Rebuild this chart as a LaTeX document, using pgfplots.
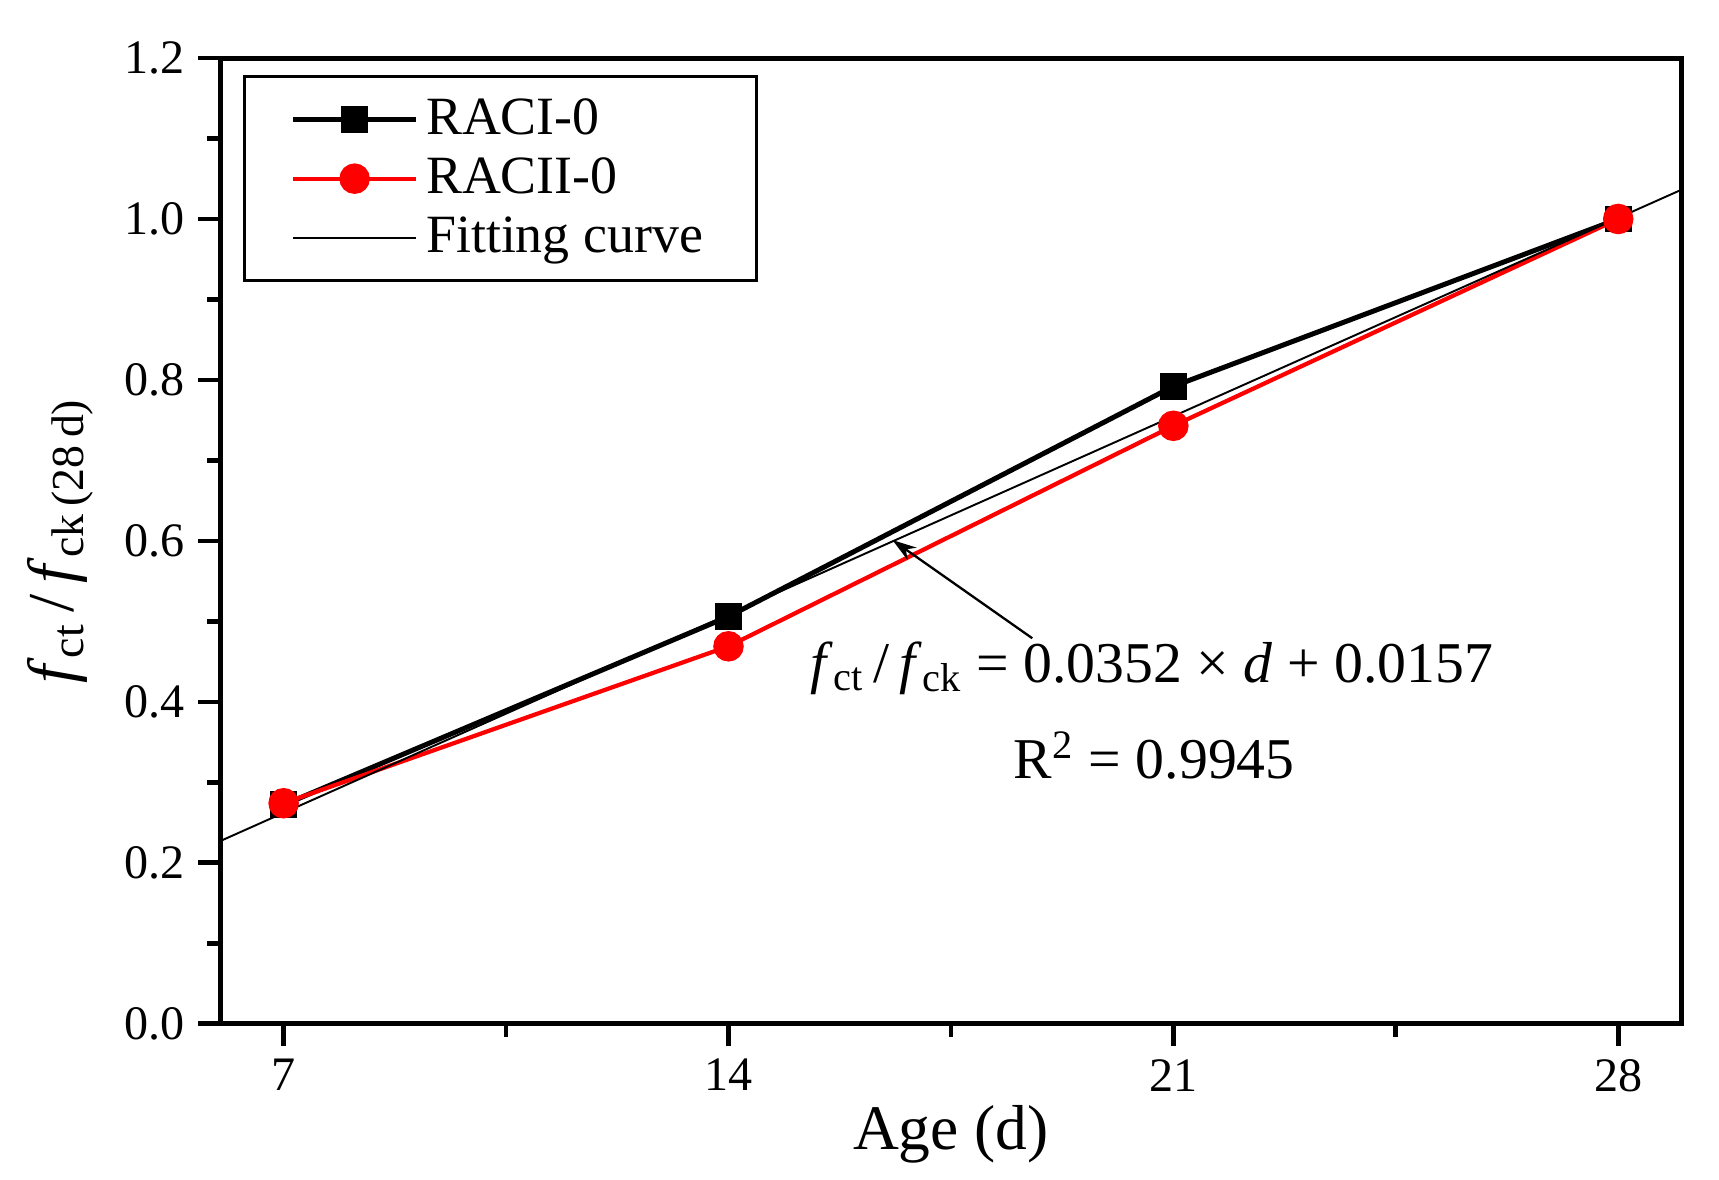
\documentclass[border=0pt]{standalone}
\usepackage{fontspec}
\setmainfont{Liberation Serif}
\usepackage{pgfplots}
\pgfplotsset{compat=1.18}
\usetikzlibrary{arrows.meta}
\begin{document}
\begin{tikzpicture}
\begin{axis}[
 scale only axis, width=13.35cm, height=8.82cm,
 xmin=6, xmax=29, ymin=0, ymax=1.2,
 xtick={7,14,21,28}, minor xtick={10.5,17.5,24.5},
 ytick={0,0.2,0.4,0.6,0.8,1.0,1.2}, minor ytick={0.1,0.3,0.5,0.7,0.9,1.1},
 yticklabel style={/pgf/number format/.cd, fixed, fixed zerofill, precision=1},
 /pgf/number format/assume math mode=true,
 tick align=outside, tick pos=left,
 major tick length=0.2cm, minor tick length=0.12cm,
 every tick/.style={black, line width=1.2pt},
 axis line style={line width=1.3pt},
 tick label style={font=\fontsize{12.5}{14}\selectfont},
 xlabel={Age (d)},
 xlabel style={font=\fontsize{16.5}{18}\selectfont, yshift=0.12cm},
 ylabel={\textit{f}\textsubscript{ct}\,/\,\textit{f}\textsubscript{ck\,(28\,d)}},
 ylabel style={font=\fontsize{17}{19}\selectfont, yshift=0.04cm},
 legend style={at={(0.016,0.982)}, anchor=north west, draw=black, line width=0.7pt,
   font=\fontsize{14}{16}\selectfont, inner xsep=0.42cm, inner ysep=0.13cm, row sep=0.02cm},
 legend cell align=left,
 legend image code/.code={\draw[mark repeat=2,mark phase=2] plot coordinates {(0cm,0cm) (0.56cm,0cm) (1.12cm,0cm)};},
 clip=false,
]
\addplot[black, line width=1.3pt, mark=square*, mark size=0.1cm, mark options={solid, fill=black}]
 coordinates {(7,0.272) (14,0.506) (21,0.792) (28,1.0)};
\addlegendentry{RACI-0}
\addplot[red, line width=1.1pt, mark=*, mark size=0.12cm, mark options={solid, fill=red}]
 coordinates {(7,0.274) (14,0.469) (21,0.743) (28,1.0)};
\addlegendentry{RACII-0}
\addplot[black, line width=0.5pt, no marks]
 coordinates {(6,0.2269) (29,1.0365)};
\addlegendentry{Fitting curve}
\draw[line width=0.6pt, -{Stealth[length=0.22cm, width=0.14cm]}] (axis cs:18.78,0.479) -- (axis cs:16.58,0.601);
\node[font=\fontsize{15}{17}\selectfont] at (axis cs:20.66,0.442)
 {\textit{f}\textsubscript{ct}\,/\,\textit{f}\textsubscript{ck} = 0.0352 × \textit{d} + 0.0157};
\node[font=\fontsize{15}{17}\selectfont] at (axis cs:20.7,0.333) {R\textsuperscript{2} = 0.9945};
\end{axis}
\path (current axis.south west) ++(-2.01cm,-1.42cm) coordinate (bl);
\path (current axis.north east) ++(0.34cm,0.53cm) coordinate (tr);
\path[use as bounding box] (bl) rectangle (tr);
\end{tikzpicture}
\end{document}
